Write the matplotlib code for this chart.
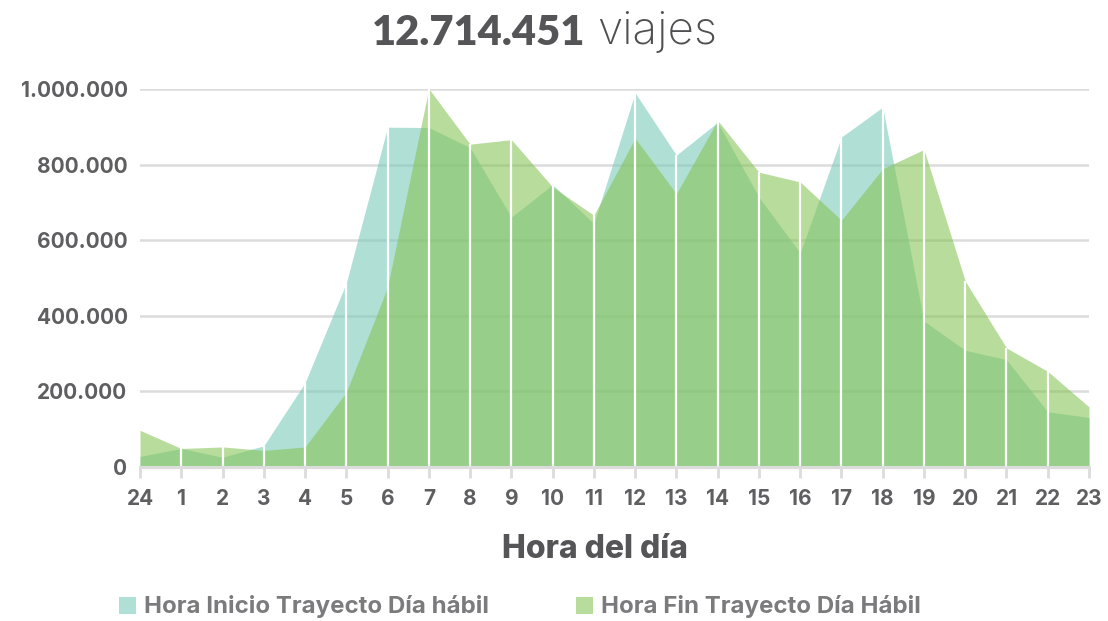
import numpy as np
import matplotlib
matplotlib.use("Agg")
import matplotlib.pyplot as plt
from matplotlib.patches import Patch

# datos
horas = ["24", "1", "2", "3", "4", "5", "6", "7", "8", "9", "10", "11",
         "12", "13", "14", "15", "16", "17", "18", "19", "20", "21", "22", "23"]
inicio = [28000, 49000, 26000, 56000, 223000, 487000, 899000, 898000, 845000, 661000, 747000, 644000,
          990000, 825000, 912000, 714000, 566000, 873000, 952000, 386000, 309000, 284000, 146000, 131000]
fin = [97000, 49000, 53000, 44000, 53000, 198000, 476000, 1001000, 854000, 866000, 741000, 666000,
       870000, 723000, 917000, 780000, 754000, 653000, 789000, 840000, 492000, 315000, 253000, 159000]
yticks = [0, 200000, 400000, 600000, 800000, 1000000]
ylabels = ["0", "200.000", "400.000", "600.000", "800.000", "1.000.000"]

c_inicio = "#77cab8"
c_fin = "#85c354"
gris = "#5f5f61"
fuente = "Inter"

fig = plt.figure(figsize=(11.08, 6.21), dpi=100)
ax = fig.add_axes([140 / 1108, (621 - 467) / 621, (1089 - 140) / 1108, (467 - 89) / 621])

x = np.arange(len(horas))
ax.fill_between(x, 0, inicio, color=c_inicio, alpha=0.58, lw=0, zorder=2, clip_on=False)
ax.fill_between(x, 0, fin, color=c_fin, alpha=0.58, lw=0, zorder=3, clip_on=False)
ax.vlines(x[1:-1], 0, np.maximum(inicio, fin)[1:-1], color="white", lw=1.6, zorder=4)

ax.set_xlim(0, 23)
ax.set_ylim(0, 1000000)
ax.set_yticks(yticks)
ax.set_yticklabels(ylabels)
ax.set_xticks(x)
ax.set_xticklabels(horas)
ax.grid(axis="y", color="#dcdcdc", lw=1.8, zorder=1)
ax.set_axisbelow(True)
for s in ["top", "right", "left"]:
    ax.spines[s].set_visible(False)
ax.spines["bottom"].set_color("#dcdcdc")
ax.spines["bottom"].set_linewidth(2.2)
ax.spines["bottom"].set_zorder(5)
ax.tick_params(axis="y", length=0, pad=9)
ax.tick_params(axis="x", length=8, width=2, color="#dcdcdc", pad=8)
for lab in ax.get_xticklabels() + ax.get_yticklabels():
    lab.set_fontfamily(fuente)
    lab.set_fontweight("bold")
    lab.set_fontsize(15)
    lab.set_color(gris)

# titulo
fig.text(585 / 1108, 1 - 33 / 621, "12.714.451", ha="right", va="center",
         fontsize=30, fontweight="heavy", family="Lato", color="#555557")
fig.text(597 / 1108, 1 - 32 / 621, "viajes", ha="left", va="center",
         fontsize=33, fontweight="light", family=fuente, color="#4f4f51")

fig.text(595 / 1108, 1 - 549 / 621, "Hora del día", ha="center", va="center",
         fontsize=23, fontweight="heavy", family=fuente, color="#555557")

handles = [Patch(facecolor=c_inicio, alpha=0.58, lw=0),
           Patch(facecolor=c_fin, alpha=0.58, lw=0)]
leg = fig.legend(handles, ["Hora Inicio Trayecto Día hábil", "Hora Fin Trayecto Día Hábil"],
                 loc="center", bbox_to_anchor=(520 / 1108, 1 - 607 / 621), ncol=2, frameon=False,
                 handlelength=0.7, handleheight=0.7, handletextpad=0.35, columnspacing=3.6,
                 prop={"family": fuente, "weight": "bold", "size": 17.3})
for t in leg.get_texts():
    t.set_color("#7b7b7d")

fig.savefig("out.png", dpi=100)
